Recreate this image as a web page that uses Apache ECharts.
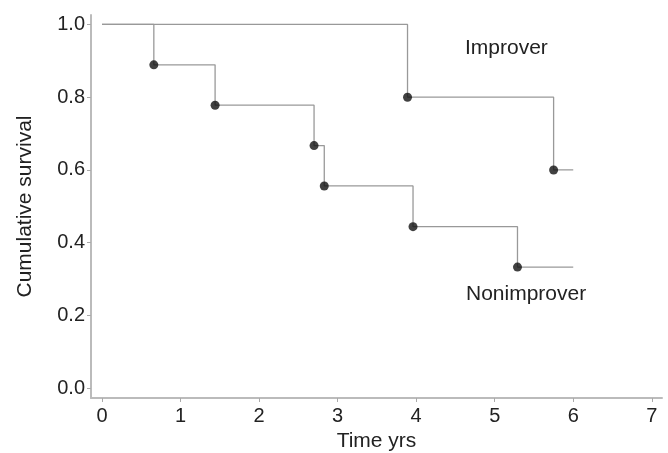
<!DOCTYPE html>
<html>
<head>
<meta charset="utf-8">
<script src="https://cdn.jsdelivr.net/npm/echarts@6/dist/echarts.min.js"></script>
<style>
  html, body { margin: 0; padding: 0; background: #fff; }
  #main { width: 668px; height: 453px; }
</style>
</head>
<body>
<div id="main"></div>
<script>
// event times (yrs) and survival after each event
const improverTimes = [3.89, 5.75];
const improverSurv = [0.8, 0.6];
const nonimpTimes = [0.66, 1.44, 2.70, 2.83, 3.96, 5.29];
const nonimpSurv = [0.889, 0.778, 0.667, 0.556, 0.444, 0.333];
const followUpEnd = 6.0;
const xTicks = [0, 1, 2, 3, 4, 5, 6, 7];
const yTicks = [0, 0.2, 0.4, 0.6, 0.8, 1.0];

function stepData(times, surv) {
    let d = [[0, 1]];
    times.forEach((t, i) => d.push([t, surv[i]]));
    d.push([followUpEnd, surv[surv.length - 1]]);
    return d;
}
function eventData(times, surv) {
    return times.map((t, i) => [t, surv[i]]);
}

window.onload = () => {
    let chart = echarts.init(document.getElementById('main'));
    let labelStyle = { fontFamily: 'Liberation Sans', fontSize: 21, color: '#222' };
    let option = {
        animation: false,
        grid: { left: 91, right: 6, top: 15, bottom: 55, containLabel: false, outerBoundsMode: 'none' },
        xAxis: {
            type: 'value',
            min: -0.14,
            max: 7.13,
            name: 'Time yrs',
            nameLocation: 'middle',
            nameGap: 33,
            nameTextStyle: labelStyle,
            splitLine: { show: false },
            axisLine: { onZero: false, lineStyle: { color: '#bbb', width: 2 } },
            axisTick: { customValues: xTicks, length: 4, lineStyle: { color: '#aaa' } },
            axisLabel: { customValues: xTicks, margin: 8, fontFamily: 'Liberation Sans', fontSize: 20, color: '#222' }
        },
        yAxis: {
            type: 'value',
            min: -0.027,
            max: 1.026,
            name: 'Cumulative survival',
            nameLocation: 'middle',
            nameGap: 55,
            nameTextStyle: labelStyle,
            splitLine: { show: false },
            axisLine: { show: true, onZero: false, lineStyle: { color: '#bbb', width: 2 } },
            axisTick: { show: true, customValues: yTicks, length: 4, lineStyle: { color: '#aaa' } },
            axisLabel: {
                customValues: yTicks, margin: 6,
                fontFamily: 'Liberation Sans', fontSize: 20, color: '#222',
                formatter: v => v.toFixed(1)
            }
        },
        graphic: [
            { type: 'text', left: 465, top: 38, style: { text: 'Improver', font: '21px Liberation Sans', fill: '#222' } },
            { type: 'text', left: 466, top: 284, style: { text: 'Nonimprover', font: '21px Liberation Sans', fill: '#222' } }
        ],
        series: [
            {
                type: 'line', step: 'end', showSymbol: false,
                data: stepData(nonimpTimes, nonimpSurv),
                lineStyle: { color: '#999', width: 1.3 }
            },
            {
                type: 'line', step: 'end', showSymbol: false,
                data: stepData(improverTimes, improverSurv),
                lineStyle: { color: '#999', width: 1.3 }
            },
            {
                type: 'scatter', symbolSize: 9, z: 5,
                data: eventData(nonimpTimes, nonimpSurv).concat(eventData(improverTimes, improverSurv)),
                itemStyle: { color: '#111' }
            }
        ]
    };
    chart.setOption(option);
};
</script>
</body>
</html>
